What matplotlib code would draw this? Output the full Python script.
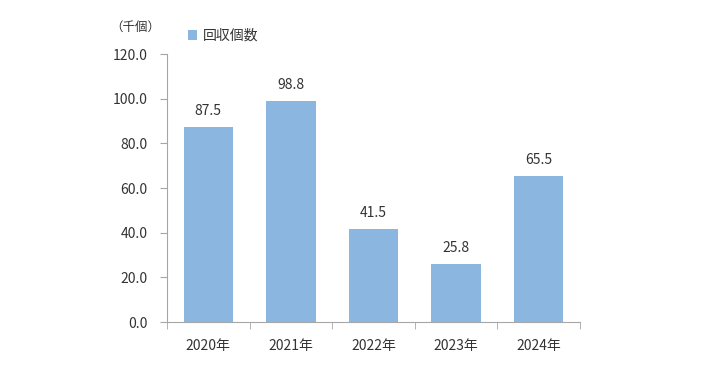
import matplotlib.pyplot as plt
import numpy as np

plt.rcParams['font.family'] = ['Noto Sans CJK JP', 'DejaVu Sans']

years = ['2020年', '2021年', '2022年', '2023年', '2024年']
counts = [87.5, 98.8, 41.5, 25.8, 65.5]
yticks = [0, 20, 40, 60, 80, 100, 120]

bar_color = '#8ab6e0'
text_color = '#333333'
axis_color = '#a6a6a6'

fig = plt.figure(figsize=(7.18, 3.70), dpi=100)
ax = fig.add_axes([0.2326, 0.1297, 0.575, 0.7243])

x = np.arange(len(years))
ax.bar(x, counts, width=0.6, color=bar_color, label='回収個数')
for xi, v in zip(x, counts):
    ax.text(xi, v + 4, f'{v:.1f}', ha='center', va='bottom', fontsize=10, color=text_color)

ax.set_xlim(-0.5, len(years) - 0.5)
ax.set_ylim(0, 120)
ax.set_yticks(yticks)
ax.set_yticklabels([f'{t:.1f}' for t in yticks], fontsize=10, color=text_color)
ax.set_xticks(x)
ax.set_xticklabels(years, fontsize=10, color=text_color)
ax.tick_params(axis='x', length=0, pad=12)
ax.set_xticks(np.arange(len(years) + 1) - 0.5, minor=True)
ax.tick_params(axis='x', which='minor', length=5, color=axis_color, direction='out')
ax.tick_params(axis='y', length=5, color=axis_color, direction='out', pad=9)

for s in ['top', 'right']:
    ax.spines[s].set_visible(False)
for s in ['left', 'bottom']:
    ax.spines[s].set_color(axis_color)

fig.text(0.188, 0.925, '（千個）', fontsize=9, color=text_color, ha='center', va='center')
ax.legend(loc='upper left', bbox_to_anchor=(0.02, 1.14), frameon=False, fontsize=10,
          handlelength=0.7, handleheight=0.7, handletextpad=0.4, labelcolor=text_color)

fig.savefig('out.png', dpi=100)
